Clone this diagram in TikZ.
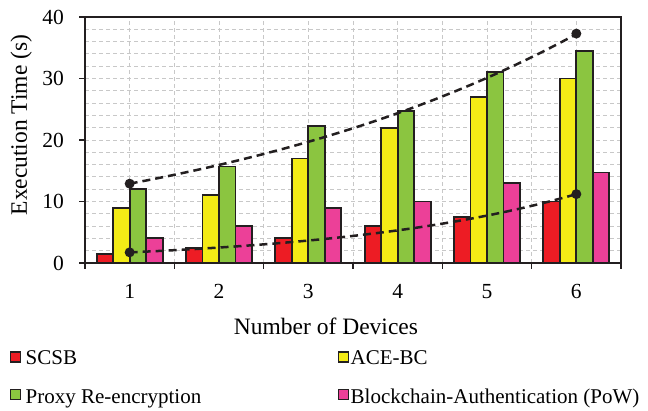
\documentclass[tikz,border=0pt]{standalone}
\usepackage{fontspec}
\setmainfont{Liberation Serif}
\definecolor{cred}{HTML}{ED1C24}
\definecolor{cyel}{HTML}{F4EB16}
\definecolor{cgrn}{HTML}{8BC540}
\definecolor{cpnk}{HTML}{EC4098}
\definecolor{framec}{HTML}{231F20}
\definecolor{gridc}{HTML}{C8C8C8}
\begin{document}
\begin{tikzpicture}[x=1pt,y=-1pt,
  bar/.style={draw=framec, line width=1.8pt},
  gridline/.style={draw=gridc, line width=0.9pt, dash pattern=on 4pt off 3pt},
  trend/.style={draw=framec, line width=2.5pt, dash pattern=on 8pt off 5pt},
  dot/.style={circle, fill=framec, inner sep=0pt, minimum size=10pt},
  ticklab/.style={font=\fontsize{21.5}{24}\selectfont, inner sep=0pt},
  title/.style={font=\fontsize{23.5}{27}\selectfont, inner sep=0pt},
  legtext/.style={font=\fontsize{21}{24}\selectfont, inner sep=0pt, anchor=base west},
  legbox/.style={draw=framec, line width=1.5pt, minimum width=10pt, minimum height=10pt, inner sep=0pt}]
\useasboundingbox (0,0) rectangle (648,411);
\begin{scope}[shift={(85,263)}, x=89.333pt, y=6.15pt]
  % grid
  \foreach \v in {2,4,...,38} \draw[gridline] (0,\v) -- (6,\v);
  \foreach \u in {0.5,1,...,5.5} \draw[gridline] (\u,0) -- (\u,40);
  % bars
  \foreach \g/\a/\b/\c/\d in {1/1.5/9/12/4, 2/2.5/11/15.7/6, 3/4/17/22.3/9, 4/6/22/24.7/10, 5/7.5/27/31/13, 6/10/30/34.5/14.7}{
    \pgfmathsetmacro\cx{\g-0.5}
    \filldraw[bar, fill=cred] (\cx-0.3694,0) rectangle (\cx-0.1847,\a);
    \filldraw[bar, fill=cyel] (\cx-0.1847,0) rectangle (\cx,\b);
    \filldraw[bar, fill=cgrn] (\cx,0) rectangle (\cx+0.1847,\c);
    \filldraw[bar, fill=cpnk] (\cx+0.1847,0) rectangle (\cx+0.3694,\d);
  }
  % trend lines
  \draw[trend] plot[domain=0.5:5.5, samples=60, smooth] (\x, {12.9*exp(0.2119*(\x-0.5))});
  \draw[trend] plot[domain=0.5:5.5, samples=60, smooth] (\x, {1.73*exp(0.3736*(\x-0.5))});
  \node[dot] (u1) at (0.5,12.9) {};
  \node[dot] (u6) at (5.5,37.3) {};
  \node[dot] (l1) at (0.5,1.73) {};
  \node[dot] (l6) at (5.5,11.2) {};
  % frame and ticks
  \draw[framec, line width=1.8pt] (0,0) rectangle (6,40);
  \foreach \v in {0,10,...,40}{
    \draw[framec, line width=1.5pt] (0,\v) -- ++(-6pt,0);
    \node[ticklab, anchor=base east] (y\v) at ([xshift=-21pt, yshift=-7.5pt]0,\v) {\v};
  }
  \foreach \u in {0,...,6} \draw[framec, line width=1.5pt] (\u,0) -- ++(0,-6pt);
\end{scope}
% x tick labels
\foreach \g in {1,...,6}
  \node[ticklab, anchor=base] (x\g) at ({85+89.333*(\g-0.5)},299) {\g};
% axis titles
\node[title, anchor=base] (xt) at (326,335) {Number of Devices};
\node[title, anchor=base, rotate=90] (yt) at (27,125) {Execution Time (s)};
% legend
\node[legbox, fill=cred] (k1) at (15.3,357) {};
\node[legtext] (t1) at (25.5,365) {SCSB};
\node[legbox, fill=cyel] (k2) at (343.7,357) {};
\node[legtext] (t2) at (350.5,365) {ACE-BC};
\node[legbox, fill=cgrn] (k3) at (15.3,394.6) {};
\node[legtext] (t3) at (25.5,403) {Proxy Re-encryption};
\node[legbox, fill=cpnk] (k4) at (343.7,394.6) {};
\node[legtext] (t4) at (350.5,403) {Blockchain-Authentication (PoW)};
\end{tikzpicture}
\end{document}
